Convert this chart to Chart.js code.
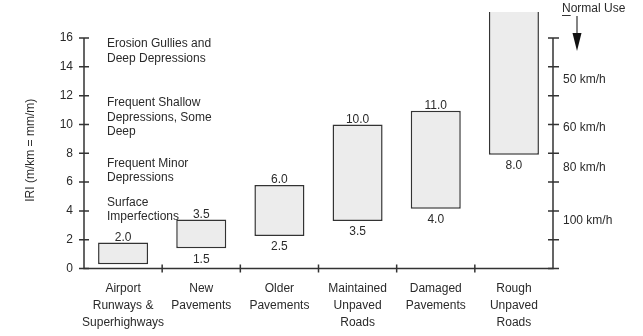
<!DOCTYPE html>
<html>
<head>
<meta charset="utf-8">
<script src="https://cdn.jsdelivr.net/npm/chart.js@4"></script>
<style>
  html, body { margin: 0; padding: 0; background: #fff; }
  #wrap { width: 643px; height: 336px; }
</style>
</head>
<body>
<div id="wrap"><canvas id="iri-chart" width="643" height="336"></canvas></div>
<script>
// categories (multi-line x labels)
const categories = [
  ['Airport', 'Runways &', 'Superhighways'],
  ['New', 'Pavements'],
  ['Older', 'Pavements'],
  ['Maintained', 'Unpaved', 'Roads'],
  ['Damaged', 'Pavements'],
  ['Rough', 'Unpaved', 'Roads']
];

// IRI range of each bar as drawn (low, high); the last one runs off the top
const rangeLow  = [0.3, 1.4, 2.25, 3.3, 4.15, 7.9];
const rangeHigh = [1.8, 3.4, 5.8, 10.0, 10.95, 19];

// value labels printed at the bar ends
const topLabels    = ['2.0', '3.5', '6.0', '10.0', '11.0', null];
const bottomLabels = [null, '1.5', '2.5', '3.5', '4.0', '8.0'];

// left axis ticks
const yTicks = [0, 2, 4, 6, 8, 10, 12, 14, 16];

// roughness descriptions on the left (lines + IRI position of first line)
const descLines = [
  ['Erosion Gullies and', 'Deep Depressions'],
  ['Frequent Shallow', 'Depressions, Some', 'Deep'],
  ['Frequent Minor', 'Depressions'],
  ['Surface', 'Imperfections']
];
const descAt = [15.6, 11.5, 7.3, 4.6];

// speed labels on the right axis
const speedLabels = ['50 km/h', '60 km/h', '80 km/h', '100 km/h'];
const speedAt = [13.1, 9.8, 7.0, 3.3];

const FONT = '"Liberation Sans", Arial, sans-serif';
const INK = '#2a2a2a';

const floatingBars = categories.map((c, i) => [rangeLow[i], rangeHigh[i]]);

// draws axes, crossing tick marks and all the free text
const overlayPlugin = {
  id: 'overlay',
  afterDatasetsDraw(chart) {
    const ctx = chart.ctx;
    const area = chart.chartArea;
    const ys = chart.scales.y;
    const xs = chart.scales.x;
    const y0 = ys.getPixelForValue(0);
    const y16 = ys.getPixelForValue(16);

    ctx.save();
    ctx.strokeStyle = '#333';
    ctx.lineWidth = 1.5;

    // axis lines
    ctx.beginPath();
    ctx.moveTo(area.left, y16);
    ctx.lineTo(area.left, y0);
    ctx.lineTo(area.right, y0);
    ctx.lineTo(area.right, y16);
    ctx.stroke();

    // y ticks on both sides
    yTicks.forEach(v => {
      const py = ys.getPixelForValue(v);
      ctx.beginPath();
      ctx.moveTo(area.left - 5, py);
      ctx.lineTo(area.left + 5, py);
      ctx.moveTo(area.right - 5, py);
      ctx.lineTo(area.right + 6, py);
      ctx.stroke();
    });

    // x ticks between categories
    for (let i = 1; i < categories.length; i++) {
      const px = (xs.getPixelForValue(i - 1) + xs.getPixelForValue(i)) / 2;
      ctx.beginPath();
      ctx.moveTo(px, y0 - 4);
      ctx.lineTo(px, y0 + 4);
      ctx.stroke();
    }

    ctx.fillStyle = INK;
    ctx.font = '12px ' + FONT;
    ctx.textAlign = 'center';

    // bar end labels
    categories.forEach((c, i) => {
      const px = xs.getPixelForValue(i);
      if (topLabels[i]) {
        ctx.textBaseline = 'bottom';
        ctx.fillText(topLabels[i], px, ys.getPixelForValue(rangeHigh[i]) + 1);
      }
      if (bottomLabels[i]) {
        ctx.textBaseline = 'top';
        ctx.fillText(bottomLabels[i], px, ys.getPixelForValue(rangeLow[i]) + 5);
      }
    });

    // axis title
    ctx.save();
    ctx.translate(31, (area.top + area.bottom) / 2 - 3);
    ctx.rotate(-Math.PI / 2);
    ctx.textBaseline = 'middle';
    ctx.fillText('IRI (m/km = mm/m)', 0, 0);
    ctx.restore();

    // descriptions
    ctx.textAlign = 'left';
    ctx.textBaseline = 'middle';
    descLines.forEach((lines, k) => {
      const py = ys.getPixelForValue(descAt[k]);
      lines.forEach((t, j) => ctx.fillText(t, area.left + 23, py + j * 14.5));
    });

    // speed labels
    speedLabels.forEach((t, k) => {
      ctx.fillText(t, area.right + 10, ys.getPixelForValue(speedAt[k]));
    });

    // "Normal Use" with underlined N
    const nx = area.right + 9;
    ctx.fillText('Normal Use', nx, 9);
    const nw = ctx.measureText('N').width;
    ctx.lineWidth = 1;
    ctx.beginPath();
    ctx.moveTo(nx, 15.5);
    ctx.lineTo(nx + nw, 15.5);
    ctx.stroke();

    // arrow
    const ax = area.right + 24;
    ctx.lineWidth = 1.2;
    ctx.beginPath();
    ctx.moveTo(ax, 16);
    ctx.lineTo(ax, 36);
    ctx.stroke();
    ctx.fillStyle = '#111';
    ctx.beginPath();
    ctx.moveTo(ax - 4.5, 33);
    ctx.lineTo(ax + 4.5, 33);
    ctx.lineTo(ax, 51);
    ctx.closePath();
    ctx.fill();

    ctx.restore();
  }
};

new Chart(document.getElementById('iri-chart'), {
  type: 'bar',
  data: {
    labels: categories,
    datasets: [{
      data: floatingBars,
      backgroundColor: '#ececec',
      borderColor: '#333',
      borderWidth: 1.5,
      borderSkipped: false,
      barPercentage: 0.64,
      categoryPercentage: 1,
      // allow the rough-roads bar to rise above 16, cut at the picture edge
      clip: { left: 0, right: 0, bottom: 0, top: 26 }
    }]
  },
  options: {
    responsive: false,
    animation: false,
    layout: { padding: { top: 38, right: 90, left: 0, bottom: 0 } },
    plugins: {
      legend: { display: false },
      tooltip: { enabled: false }
    },
    scales: {
      x: {
        grid: { display: false },
        border: { display: false },
        ticks: {
          color: INK,
          font: { family: FONT, size: 12, lineHeight: 1.42 },
          padding: 4,
          maxRotation: 0,
          autoSkip: false
        },
        afterFit(s) { s.height = 336 - 268.5; }
      },
      y: {
        min: 0,
        max: 16,
        grid: { display: false },
        border: { display: false },
        afterBuildTicks(s) { s.ticks = yTicks.map(v => ({ value: v })); },
        ticks: {
          color: INK,
          font: { family: FONT, size: 12 },
          padding: 3
        },
        afterFit(s) { s.width = 84; }
      }
    }
  },
  plugins: [overlayPlugin]
});
</script>
</body>
</html>
